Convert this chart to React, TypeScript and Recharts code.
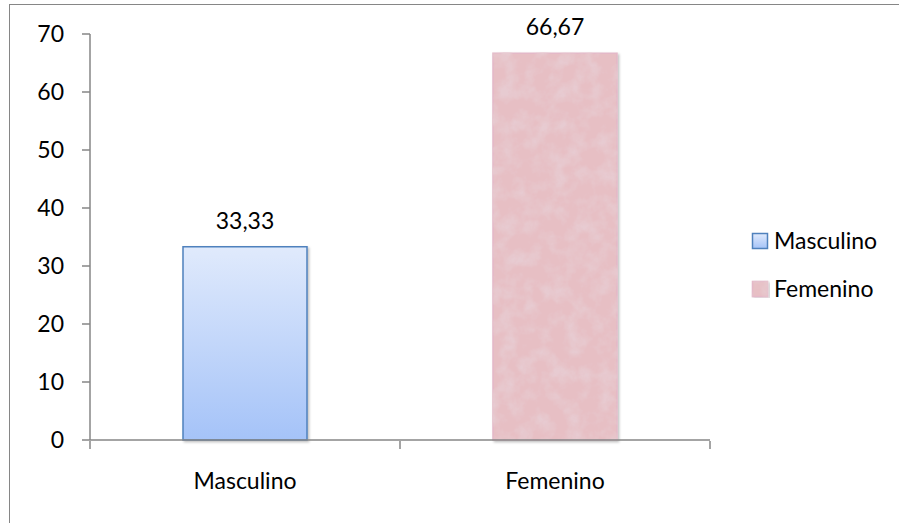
import React from 'react';
import { BarChart, Bar, XAxis, YAxis, Cell, LabelList, Legend } from 'recharts';

const categories = ['Masculino', 'Femenino'];
const percentages = [33.33, 66.67];
const yTicks = [0, 10, 20, 30, 40, 50, 60, 70];
const boundaryTicks = [0, 1, 2];

const data = categories.map((name, i) => ({ name, value: percentages[i], slot: i + 0.5 }));

const FONT = 'Lato, "Open Sans", sans-serif';
const AXIS = '#868686';
const fills = ['url(#blueFill)', '#e7bfc4'];
const strokes = ['#4f81bd', '#e4b8c8'];
const filters = ['url(#barShadow)', 'url(#paperTexture)'];

const fmt = (v: any) => Number(v).toFixed(2).replace('.', ',');

const LegendBox = () => (
  <svg width={150} height={80}>
    {categories.map((name, i) => (
      <g key={name} transform={`translate(0, ${i * 48})`}>
        <rect x={7.5} y={8.5} width={15} height={15} fill={fills[i]} stroke={strokes[i]} strokeWidth={1.5} filter={i === 1 ? 'url(#paperTexture)' : undefined} />
        <text x={29} y={24} fontFamily={FONT} fontSize={23} fill="#000">{name}</text>
      </g>
    ))}
  </svg>
);

export default function App() {
  return (
    <div style={{ position: 'absolute', left: 0, top: 0, width: 899, height: 523, overflow: 'hidden', background: '#fff' }}>
      <div style={{ position: 'absolute', left: 9, top: 4, width: 920, height: 560, border: `1.5px solid ${AXIS}`, boxSizing: 'border-box' }} />
      <div style={{ position: 'absolute', left: 0, top: 0 }}>
        <BarChart width={899} height={523} data={data} margin={{ top: 34, right: 189, bottom: 43, left: 10 }}>
          <defs>
            <linearGradient id="blueFill" x1="0" y1="0" x2="0" y2="1">
              <stop offset="0%" stopColor="#e0eafc" />
              <stop offset="100%" stopColor="#a5c3f8" />
            </linearGradient>
            <filter id="barShadow" x="-10%" y="-10%" width="125%" height="115%">
              <feDropShadow dx="1.5" dy="1.5" stdDeviation="1.2" floodColor="#000" floodOpacity="0.25" />
            </filter>
            <filter id="paperTexture" x="-10%" y="-10%" width="125%" height="115%">
              <feTurbulence type="fractalNoise" baseFrequency="0.06" numOctaves="4" seed="7" result="noise" />
              <feColorMatrix in="noise" type="matrix" values="0 0 0 0 0.80  0 0 0 0 0.60  0 0 0 0 0.64  0 0 0 2.2 -0.85" result="tint" />
              <feComposite in="tint" in2="SourceGraphic" operator="in" result="spots" />
              <feDropShadow in="SourceGraphic" dx="1.5" dy="1.5" stdDeviation="1.2" floodColor="#000" floodOpacity="0.25" result="shadowed" />
              <feMerge>
                <feMergeNode in="shadowed" />
                <feMergeNode in="spots" />
              </feMerge>
            </filter>
          </defs>
          {/* category axis: line + centred labels, no tick marks */}
          <XAxis
            xAxisId="cat"
            dataKey="name"
            height={1}
            tickLine={false}
            tickSize={0}
            tickMargin={33}
            axisLine={{ stroke: AXIS, strokeWidth: 1.5 }}
            tick={{ fontFamily: FONT, fontSize: 23, fill: '#000' }}
          />
          {/* tick marks on the category boundaries */}
          <XAxis
            xAxisId="edges"
            type="number"
            dataKey="slot"
            domain={[0, 2]}
            ticks={boundaryTicks}
            interval={0}
            height={39}
            axisLine={false}
            tickSize={8}
            tickLine={{ stroke: AXIS, strokeWidth: 1.5 }}
            tickFormatter={() => ''}
          />
          <YAxis
            width={80}
            domain={[0, 70]}
            ticks={yTicks}
            interval={0}
            tickSize={8}
            tickMargin={18}
            axisLine={{ stroke: AXIS, strokeWidth: 1.5 }}
            tickLine={{ stroke: AXIS, strokeWidth: 1.5 }}
            tick={{ fontFamily: FONT, fontSize: 23, fill: '#000' }}
          />
          <Legend
            layout="vertical"
            align="center"
            verticalAlign="middle"
            content={<LegendBox />}
            wrapperStyle={{ left: 745, top: 225, width: 150 }}
          />
          <Bar dataKey="value" xAxisId="cat" barSize={124} isAnimationActive={false}>
            {data.map((d, i) => (
              <Cell key={d.name} fill={fills[i]} stroke={strokes[i]} strokeWidth={1.5} filter={filters[i]} />
            ))}
            <LabelList dataKey="value" position="top" offset={18} formatter={fmt} style={{ fontFamily: FONT, fontSize: 23, fill: '#000' }} />
          </Bar>
        </BarChart>
      </div>
    </div>
  );
}
